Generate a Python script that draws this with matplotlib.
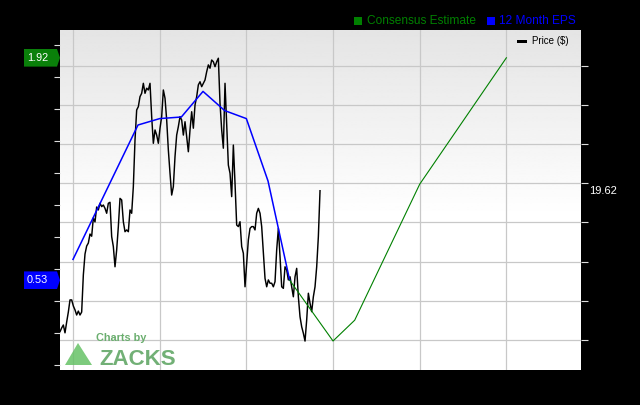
import numpy as np
import matplotlib
matplotlib.use('Agg')
from matplotlib import pyplot as plt
from matplotlib import patches, transforms

# weekly closing price ($), first week starts late 2018
price_start = 2018.85
price = [12.43, 12.62, 12.77, 12.37, 12.92, 13.43, 14.05, 14.05, 13.74, 13.54,
         13.28, 13.48, 13.28, 13.43, 15.32, 16.39, 16.80, 16.95, 17.41, 17.30,
         18.23, 18.03, 18.79, 18.64, 18.98,
         18.81, 18.89, 18.72, 18.47, 18.98, 19.03, 17.28, 16.77, 15.74, 16.60,
         17.79, 19.23, 19.15, 18.04, 17.53, 17.62, 17.53, 18.64, 18.47, 19.83,
         22.21, 23.74, 23.91, 24.42, 24.59, 25.10, 24.59, 24.85, 24.76, 25.10,
         23.40, 22.04, 22.72, 22.46, 22.04, 22.81, 23.40, 24.76, 24.34, 23.23,
         21.70, 20.51, 19.40, 19.83, 21.36, 22.46, 22.89, 23.40, 23.23, 22.46,
         23.14, 22.38, 21.61, 22.72, 23.65, 22.81, 23.99, 24.42, 25.02, 25.18,
         24.93, 25.10, 25.27, 25.69, 26.04, 25.87, 26.29, 26.20, 25.95, 26.20,
         26.38, 24.08, 22.72, 21.79, 25.10, 23.06, 20.93, 20.51, 19.32, 21.95,
         20.00, 17.87, 17.79, 18.04, 16.77, 16.43, 14.72, 15.92, 17.11, 17.70,
         17.79, 17.79, 17.62, 18.47, 18.72, 18.47, 17.79, 16.43, 15.15, 14.72,
         15.07, 14.90, 14.90, 14.72, 14.98, 16.60, 17.70, 16.26, 14.72, 14.64,
         15.74, 15.58, 15.07, 15.23, 14.72, 14.21, 15.23, 15.66, 14.21, 13.19,
         12.68, 12.35, 11.95, 13.03, 14.39, 13.88, 13.45, 14.21, 14.72, 15.74,
         17.28, 19.62]

# 12 month EPS (quarterly)
eps_x = [2019.0, 2019.75, 2020.0, 2020.25, 2020.5, 2020.75, 2021.0, 2021.25, 2021.5]
eps = [0.66, 1.50, 1.54, 1.55, 1.71, 1.59, 1.54, 1.15, 0.53]

# consensus estimate
cons_x = [2021.5, 2022.0, 2022.25, 2023.0, 2024.0]
cons = [0.53, 0.15, 0.28, 1.13, 1.92]

year_lines = [2019, 2020, 2021, 2022, 2023, 2024]
price_ticks = [12, 14, 16, 18, 20, 22, 24, 26]
eps_ticks = [0.0, 0.2, 0.4, 0.6, 0.8, 1.0, 1.2, 1.4, 1.6, 1.8, 2.0]

plt.rcParams['font.family'] = ['Liberation Sans', 'DejaVu Sans']

W, H = 640, 405
fig = plt.figure(figsize=(W / 100, H / 100), dpi=100, facecolor='black')
ax = fig.add_axes([60 / W, 35 / H, 521 / W, 340 / H])
ax_eps = ax.twinx()

# background gradient (light grey at top -> white)
t = np.linspace(0, 1, 256)
shade = np.clip(0.895 + 0.105 * t / 0.55, 0, 1)
ax.imshow(shade[:, None], cmap='gray', vmin=0, vmax=1, extent=[0, 1, 0, 1],
          transform=ax.transAxes, aspect='auto', zorder=0)

x_price = price_start + np.arange(len(price)) / 52
ax.plot(x_price, price, color='black', lw=1.05, zorder=2)

ax.set_xlim(2018.85, 2024.861)
ax.set_ylim(10.474, 27.82)
ax.set_xticks(year_lines)
ax.set_yticks(price_ticks)
ax.grid(True, color='#c8c8c8', lw=0.9)
ax.set_axisbelow(True)
ax.yaxis.tick_right()
ax.tick_params(axis='x', length=0, labelbottom=False)
ax.tick_params(axis='y', length=4.8, width=0.8, color='#dddddd', labelright=False)

ax_eps.plot(eps_x, eps, color='#0000ff', lw=1.1)
ax_eps.plot(cons_x, cons, color='#008000', lw=0.8)
ax_eps.set_ylim(-0.03125, 2.09375)
ax_eps.set_yticks(eps_ticks)
ax_eps.yaxis.tick_left()
ax_eps.tick_params(axis='y', length=4.3, width=0.8, color='#dddddd', labelleft=False)

for a in (ax, ax_eps):
    for s in a.spines.values():
        s.set_visible(False)

# last price label on the right
blend = transforms.blended_transform_factory(ax.transAxes, ax.transData)
ax.text(1.016, price[-1], f'{price[-1]:.2f}', transform=blend, color='white',
        fontsize=8, ha='left', va='center', clip_on=False)


def value_tag(val, color):
    base = transforms.blended_transform_factory(ax_eps.transAxes, ax_eps.transData)
    tr = fig.dpi_scale_trans + transforms.ScaledTranslation(0, val, base)
    verts = [(-0.36, -0.088), (-0.03, -0.088), (0, 0), (-0.03, 0.088), (-0.36, 0.088)]
    fig.add_artist(patches.Polygon(verts, closed=True, transform=tr, fc=color,
                                   ec='none', clip_on=False))
    fig.text(-0.33, 0, f'{val:.2f}', transform=tr, color='white', fontsize=7.8,
             ha='left', va='center')


value_tag(cons[-1], '#0a800a')
value_tag(eps[-1], '#0000ff')

# top legend
fig.add_artist(patches.Rectangle((354 / W, 1 - 25 / H), 8 / W, 8 / H,
                                 transform=fig.transFigure, fc='#008000', ec='none'))
fig.text(367 / W, 1 - 21 / H, 'Consensus Estimate', color='#008000', fontsize=8.6,
         va='center', ha='left')
fig.add_artist(patches.Rectangle((487 / W, 1 - 25 / H), 8 / W, 8 / H,
                                 transform=fig.transFigure, fc='#0000ff', ec='none'))
fig.text(499 / W, 1 - 21 / H, '12 Month EPS', color='#0000ff', fontsize=8.6,
         va='center', ha='left')

# price legend
fig.add_artist(patches.Rectangle((517 / W, 1 - 43 / H), 10 / W, 3.5 / H,
                                 transform=fig.transFigure, fc='black', ec='none'))
fig.text(532 / W, 1 - 41.5 / H, 'Price ($)', color='black', fontsize=7,
         va='center', ha='left')

# watermark
tri = [(65 / W, 1 - 365 / H), (92 / W, 1 - 365 / H), (78 / W, 1 - 343 / H)]
fig.add_artist(patches.Polygon(tri, closed=True, transform=fig.transFigure,
                               fc='#66c266', ec='none', alpha=0.85, zorder=3))
fig.text(96.5 / W, 1 - 338 / H, 'Charts by', color='#6aae6e', fontsize=7.8,
         fontweight='bold', va='center', ha='left', zorder=3)
fig.text(99 / W, 1 - 365 / H, 'ZACKS', color='#72b076', fontsize=16,
         fontweight='bold', va='baseline', ha='left', zorder=3)

fig.savefig('out.png', dpi=100, facecolor='black')
